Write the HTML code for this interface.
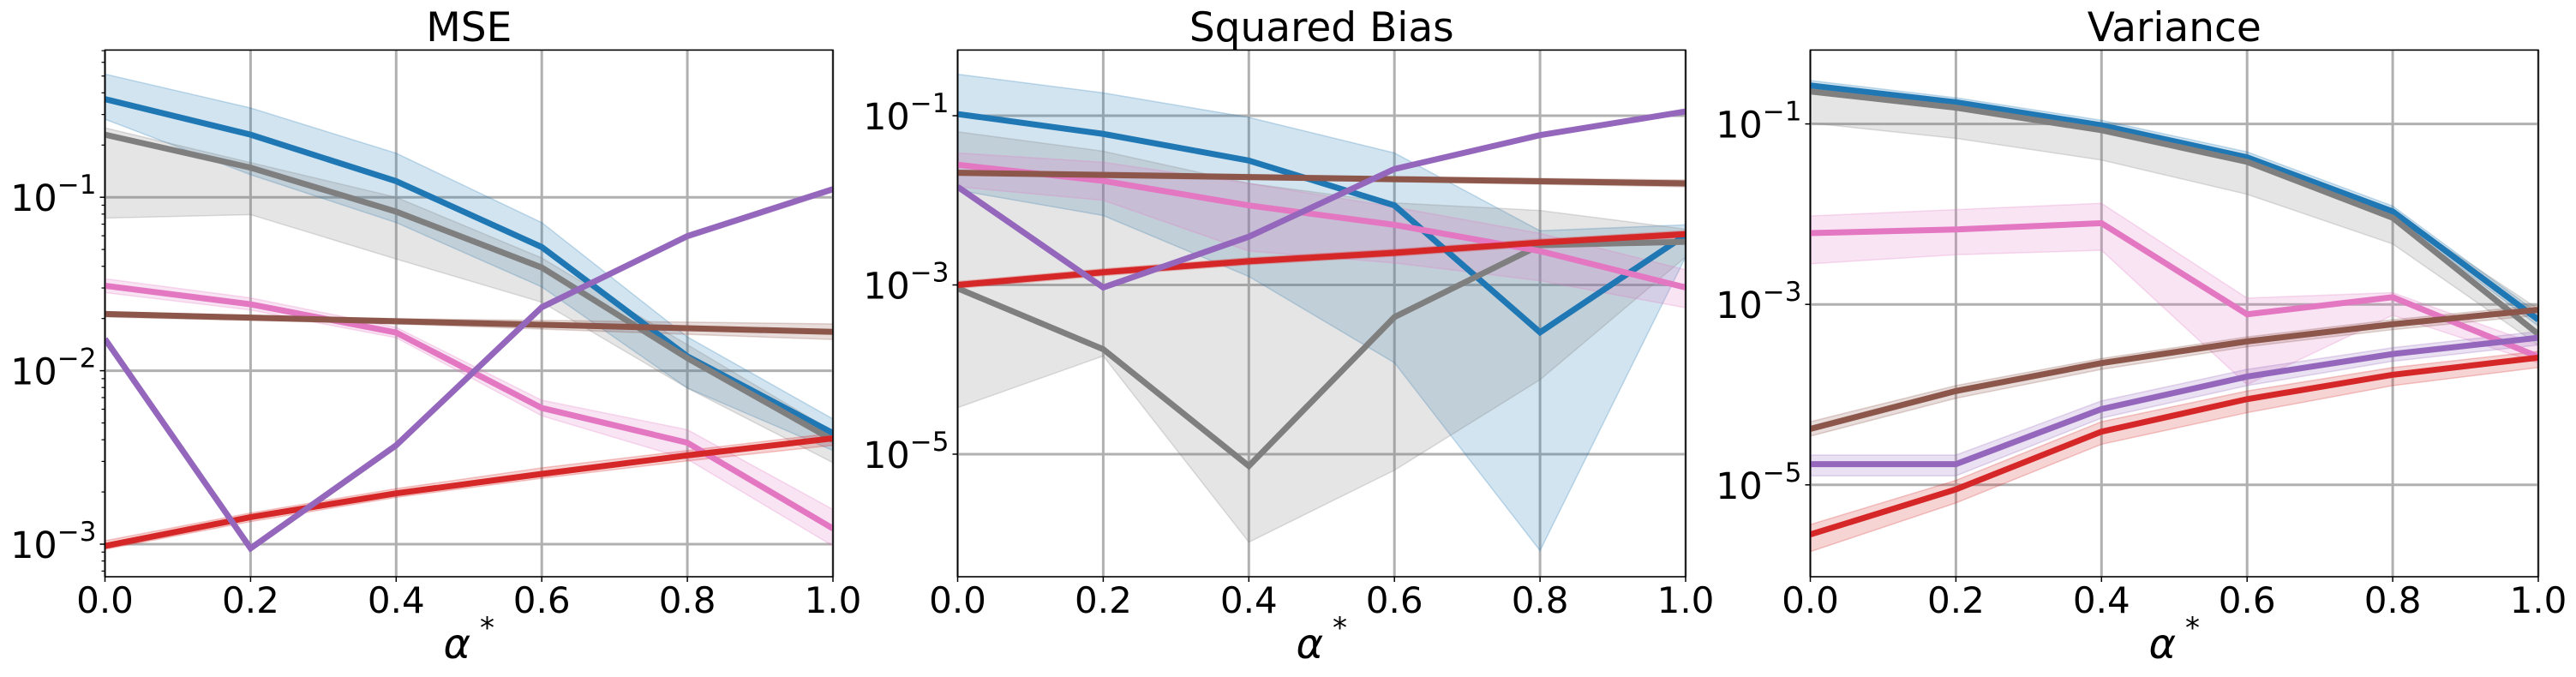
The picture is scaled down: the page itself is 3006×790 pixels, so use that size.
<!DOCTYPE html>
<html><head><meta charset="utf-8"><style>
html,body{margin:0;padding:0;background:#fff;}
svg{display:block;font-family:"DejaVu Sans","Liberation Sans",sans-serif;}
</style></head><body>
<svg id="fig" width="3006" height="790" viewBox="0 0 3006 790" xmlns="http://www.w3.org/2000/svg"></svg>
<script>
const xValues = [0, 0.2, 0.4, 0.6, 0.8, 1.0];
const xTickLabels = ["0.0","0.2","0.4","0.6","0.8","1.0"];
const seriesNames = ["blue","gray","pink","red","brown","purple"];
const seriesColors = {blue:"#1f77b4",gray:"#7f7f7f",pink:"#e377c2",red:"#d62728",brown:"#8c564b",purple:"#9467bd"};
const panelTitles = ["MSE","Squared Bias","Variance"];
// log10 values of each series (mean, upper, lower)
const mseMean = {
 blue:[-0.434,-0.639,-0.907,-1.287,-1.917,-2.36],
 gray:[-0.639,-0.829,-1.083,-1.405,-1.927,-2.4],
 pink:[-1.51,-1.617,-1.78,-2.215,-2.415,-2.91],
 red:[-3.01,-2.844,-2.707,-2.595,-2.488,-2.39],
 brown:[-1.673,-1.694,-1.715,-1.735,-1.755,-1.776],
 purple:[-1.817,-3.024,-2.43,-1.634,-1.224,-0.953]};
const mseUpper = {
 blue:[-0.29,-0.485,-0.746,-1.146,-1.805,-2.278],
 gray:[-0.6,-0.8,-1.0,-1.35,-1.85,-2.35],
 pink:[-1.47,-1.58,-1.75,-2.17,-2.34,-2.8],
 red:[-2.98,-2.82,-2.68,-2.56,-2.46,-2.36],
 brown:[-1.66,-1.68,-1.70,-1.71,-1.72,-1.73],
 purple:[-1.81,-3.01,-2.42,-1.62,-1.21,-0.94]};
const mseLower = {
 blue:[-0.55,-0.87,-1.146,-1.517,-2.1,-2.46],
 gray:[-1.12,-1.1,-1.356,-1.605,-2.1,-2.53],
 pink:[-1.55,-1.65,-1.81,-2.26,-2.51,-3.01],
 red:[-3.03,-2.87,-2.73,-2.62,-2.52,-2.43],
 brown:[-1.69,-1.71,-1.73,-1.76,-1.79,-1.82],
 purple:[-1.83,-3.04,-2.44,-1.65,-1.24,-0.97]};
const biasMean = {
 blue:[-0.98,-1.215,-1.53,-2.06,-3.56,-2.41],
 gray:[-3.04,-3.76,-5.14,-3.38,-2.53,-2.49],
 pink:[-1.58,-1.77,-2.06,-2.29,-2.6,-3.03],
 red:[-3.0,-2.85,-2.72,-2.62,-2.5,-2.4],
 brown:[-1.675,-1.70,-1.725,-1.75,-1.775,-1.8],
 purple:[-1.84,-3.03,-2.43,-1.63,-1.23,-0.95]};
const biasUpper = {
 blue:[-0.51,-0.73,-1.02,-1.44,-2.36,-2.29],
 gray:[-1.19,-1.42,-1.8,-2.03,-2.12,-2.34],
 pink:[-1.44,-1.55,-1.8,-2.08,-2.39,-2.82],
 red:[-2.96,-2.81,-2.68,-2.58,-2.46,-2.36],
 brown:[-1.645,-1.67,-1.695,-1.72,-1.74,-1.76],
 purple:[-1.83,-3.02,-2.42,-1.62,-1.22,-0.94]};
const biasLower = {
 blue:[-1.88,-2.18,-2.9,-3.92,-6.14,-2.67],
 gray:[-4.45,-3.84,-6.04,-5.19,-4.12,-2.67],
 pink:[-1.84,-2.0,-2.6,-2.74,-2.95,-3.27],
 red:[-3.04,-2.89,-2.76,-2.66,-2.54,-2.44],
 brown:[-1.705,-1.73,-1.755,-1.78,-1.81,-1.84],
 purple:[-1.85,-3.04,-2.44,-1.64,-1.24,-0.96]};
const varMean = {
 blue:[-0.574,-0.76,-1.015,-1.37,-1.97,-3.17],
 gray:[-0.64,-0.82,-1.07,-1.42,-2.04,-3.33],
 pink:[-2.21,-2.17,-2.1,-3.11,-2.92,-3.58],
 red:[-5.55,-5.05,-4.41,-4.05,-3.78,-3.59],
 brown:[-4.38,-3.96,-3.65,-3.41,-3.22,-3.06],
 purple:[-4.77,-4.77,-4.16,-3.8,-3.55,-3.37]};
const varUpper = {
 blue:[-0.52,-0.71,-0.96,-1.31,-1.91,-3.1],
 gray:[-0.58,-0.77,-1.02,-1.36,-1.98,-3.05],
 pink:[-2.02,-1.95,-1.88,-2.93,-2.87,-3.45],
 red:[-5.44,-4.95,-4.3,-3.96,-3.7,-3.52],
 brown:[-4.3,-3.9,-3.6,-3.36,-3.17,-3.01],
 purple:[-4.67,-4.67,-4.07,-3.72,-3.48,-3.3]};
const varLower = {
 blue:[-0.63,-0.82,-1.07,-1.43,-2.03,-3.24],
 gray:[-0.99,-1.16,-1.4,-1.78,-2.33,-3.45],
 pink:[-2.55,-2.45,-2.4,-3.89,-3.12,-3.65],
 red:[-5.74,-5.2,-4.55,-4.2,-3.9,-3.7],
 brown:[-4.46,-4.04,-3.72,-3.47,-3.28,-3.12],
 purple:[-4.9,-4.9,-4.26,-3.9,-3.63,-3.45]};
const yTickExps = [[-1,-2,-3],[-1,-3,-5],[-1,-3,-5]];
</script>
<script>
const NS="http://www.w3.org/2000/svg";
const svg=document.getElementById('fig');
function mk(tag,attrs,parent){const e=document.createElementNS(NS,tag);for(const k in attrs)e.setAttribute(k,attrs[k]);(parent||svg).appendChild(e);return e;}
const panels=[
 {x0:122.5,x1:972,yTop:58.4,yBot:673,refY:635,refLog:-3,pxPerDec:202.4,minor:true,mean:mseMean,up:mseUpper,lo:mseLower},
 {x0:1117.5,x1:1967,yTop:58.4,yBot:673,refY:332.5,refLog:-3,pxPerDec:98.74,minor:false,mean:biasMean,up:biasUpper,lo:biasLower},
 {x0:2112.5,x1:2962,yTop:58.4,yBot:673,refY:355.2,refLog:-3,pxPerDec:105.3,minor:false,mean:varMean,up:varUpper,lo:varLower}
];
panels.forEach((p,pi)=>{
 const g=mk('g',{});
 
 
 const xs=v=>p.x0+(v-0)*(p.x1-p.x0)/1.0;
 const ys=l=>p.refY-(l-p.refLog)*p.pxPerDec;
 const clipId='clip'+pi;
 const cp=mk('clipPath',{id:clipId},g);
 mk('rect',{x:p.x0,y:p.yTop,width:p.x1-p.x0,height:p.yBot-p.yTop},cp);
 xValues.forEach(v=>{const l=mk('line',{x1:xs(v),x2:xs(v),y1:p.yTop,y2:p.yBot,stroke:'#b0b0b0','stroke-width':3},g);
  });
 yTickExps[pi].forEach(e=>{const l=mk('line',{x1:p.x0,x2:p.x1,y1:ys(e),y2:ys(e),stroke:'#b0b0b0','stroke-width':3},g);
  });
 const dg=mk('g',{'clip-path':'url(#'+clipId+')'},g);
 seriesNames.forEach(s=>{
  const pts=xValues.map((v,i)=>xs(v)+','+ys(p.up[s][i])).concat(xValues.slice().reverse().map((v,j)=>{const i=xValues.length-1-j;return xs(v)+','+ys(p.lo[s][i]);}));
  const b=mk('polygon',{points:pts.join(' '),fill:seriesColors[s],'fill-opacity':0.2,stroke:seriesColors[s],'stroke-opacity':0.25,'stroke-width':1.5},dg);
  
 });
 seriesNames.forEach(s=>{
  const pts=xValues.map((v,i)=>xs(v)+','+ys(p.mean[s][i])).join(' ');
  const l=mk('polyline',{points:pts,fill:'none',stroke:seriesColors[s],'stroke-width':7,'stroke-linejoin':'miter'},dg);
  
 });
 const fr=mk('rect',{x:p.x0,y:p.yTop,width:p.x1-p.x0,height:p.yBot-p.yTop,fill:'none',stroke:'#000','stroke-width':1.6},g);
 
 xValues.forEach((v,i)=>{
  mk('line',{x1:xs(v),x2:xs(v),y1:p.yBot,y2:p.yBot+6,stroke:'#000','stroke-width':1.5},g);
  const t=mk('text',{x:xs(v),y:715,'font-size':42,'text-anchor':'middle',fill:'#000'},g);
  t.textContent=xTickLabels[i];
  
 });
 yTickExps[pi].forEach(e=>{
  mk('line',{x1:p.x0-6,x2:p.x0,y1:ys(e),y2:ys(e),stroke:'#000','stroke-width':1.5},g);
  const t=mk('text',{x:p.x0-10,y:ys(e)+16,'font-size':43,'text-anchor':'end',fill:'#000'},g);
  
  const a=mk('tspan',{},t);a.textContent='10';
  const b=mk('tspan',{dy:-20,'font-size':31},t);b.textContent='\u2212'+Math.abs(e);
 });
 if(p.minor){
  for(let d=-4;d<0;d++)for(let k=2;k<10;k++){const l=d+Math.log10(k);const y=ys(l);
   if(y>p.yTop&&y<p.yBot)mk('line',{x1:p.x0-4,x2:p.x0,y1:y,y2:y,stroke:'#000','stroke-width':1.2},g);}
 }
 const ti=mk('text',{x:(p.x0+p.x1)/2,y:48,'font-size':47,'text-anchor':'middle',fill:'#000'},g);
 ti.textContent=panelTitles[pi];
 
 const xl=mk('text',{x:(p.x0+p.x1)/2,y:768,'font-size':48,'text-anchor':'middle',fill:'#000','font-style':'italic'},g);
 
 const a1=mk('tspan',{},xl);a1.textContent='α';
 const a2=mk('tspan',{dy:-24,'font-size':34,'font-style':'normal'},xl);a2.textContent=' *';
});
</script>
</body></html>
